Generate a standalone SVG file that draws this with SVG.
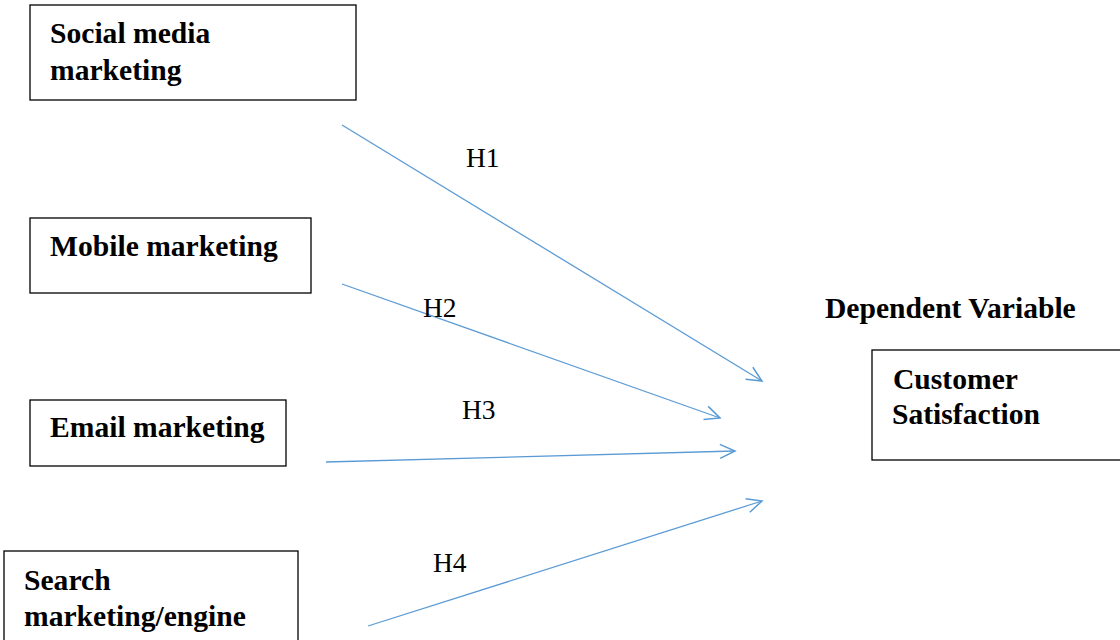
<svg xmlns="http://www.w3.org/2000/svg" width="1120" height="640" viewBox="0 0 1120 640">
<style>
.box{fill:#fff;stroke:#000;stroke-width:1.3}
.t{font-family:"Liberation Serif",serif;font-size:29.6px;font-weight:bold;fill:#000}
.h{font-family:"Liberation Serif",serif;font-size:27.5px;fill:#000}
.c{stroke:#5B9BD5;stroke-width:1.3;fill:none;marker-end:url(#arr)}
</style>
<defs>
<marker id="arr" markerWidth="20" markerHeight="20" refX="16" refY="8" orient="auto" markerUnits="userSpaceOnUse">
<path d="M1,1 L16,8 L1,15" fill="none" stroke="#5B9BD5" stroke-width="1.5"/>
</marker>
</defs>
<rect width="1120" height="640" fill="#fff"/>
<g id="social"><rect class="box" x="30" y="5" width="326" height="95"/><text class="t" x="50" y="43">Social media</text><text class="t" x="50" y="80">marketing</text></g>
<g id="mobile"><rect class="box" x="30" y="218" width="281" height="75"/><text class="t" x="50" y="256">Mobile marketing</text></g>
<g id="email"><rect class="box" x="30" y="400" width="256" height="66"/><text class="t" x="50" y="437">Email marketing</text></g>
<g id="search"><rect class="box" x="4" y="551" width="294" height="100"/><text class="t" x="24" y="590">Search</text><text class="t" x="24" y="626">marketing/engine</text></g>
<g id="dv"><text class="t" x="825" y="318">Dependent Variable</text></g>
<g id="customer"><rect class="box" x="872" y="350" width="260" height="110"/><text class="t" x="893" y="389">Customer</text><text class="t" x="892" y="424">Satisfaction</text></g>
<g id="connectors">
<line class="c" x1="342" y1="125" x2="762" y2="381"/>
<line class="c" x1="342" y1="284" x2="720" y2="418"/>
<line class="c" x1="326" y1="462" x2="735" y2="451"/>
<line class="c" x1="368" y1="626" x2="762" y2="501"/>
<text class="h" x="466" y="167">H1</text>
<text class="h" x="423" y="317">H2</text>
<text class="h" x="462" y="419">H3</text>
<text class="h" x="433" y="572">H4</text>
</g>
</svg>
